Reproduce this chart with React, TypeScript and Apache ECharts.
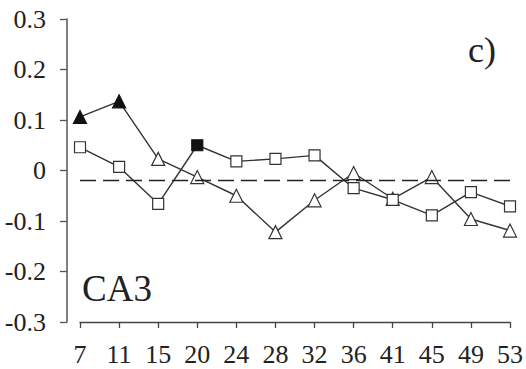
import React, { useEffect, useRef } from "react";
import * as echarts from "echarts";

const categories = ["7", "11", "15", "20", "24", "28", "32", "36", "41", "45", "49", "53"];
const triangleValues = [0.106, 0.137, 0.023, -0.013, -0.05, -0.122, -0.059, -0.005, -0.056, -0.013, -0.096, -0.119];
const squareValues = [0.046, 0.007, -0.066, 0.05, 0.018, 0.023, 0.03, -0.035, -0.058, -0.089, -0.043, -0.071];
const triangleFilled = ["7", "11"];
const squareFilled = ["20"];
const referenceLevel = -0.0165;
const yTicks = [-0.3, -0.2, -0.1, 0, 0.1, 0.2, 0.3];
const panelLabel = "c)";
const regionLabel = "CA3";

const FONT = "Liberation Serif";
const INK = "#222";

function toData(values: number[], filled: string[]) {
  return values.map((v, i) => ({
    value: v,
    itemStyle: filled.includes(categories[i])
      ? { color: "#111", borderColor: "#111" }
      : { color: "#fff", borderColor: "#333" },
  }));
}

export default function App() {
  const ref = useRef<HTMLDivElement>(null);
  useEffect(() => {
    if (!ref.current) return;
    const chart = echarts.init(ref.current, null, { renderer: "svg" });
    chart.setOption({
      animation: false,
      backgroundColor: "#fff",
      textStyle: { fontFamily: FONT },
      grid: { left: 80, right: 14, top: 19, bottom: 47 },
      xAxis: {
        type: "category",
        data: categories,
        boundaryGap: false,
        axisLine: { show: true, onZero: false, lineStyle: { color: "#444", width: 1.3 } },
        axisTick: { show: true, inside: false, length: 6, lineStyle: { color: "#444", width: 1.3 } },
        axisLabel: { margin: 19, fontFamily: FONT, fontSize: 26, color: INK },
        splitLine: { show: false },
      },
      yAxis: {
        type: "value",
        min: -0.3,
        max: 0.3,
        interval: 0.1,
        offset: 13,
        axisLine: { show: true, lineStyle: { color: "#555", width: 1.5 } },
        axisTick: { show: true, inside: false, length: 7, lineStyle: { color: "#555", width: 1.3 } },
        axisLabel: {
          margin: 21,
          fontFamily: FONT,
          fontSize: 26,
          color: INK,
          padding: [4, 0, 0, 0],
          formatter: (v: number) => {
            const r = Math.round(v * 10) / 10;
            const t = yTicks.find((x) => Math.abs(x - r) < 1e-9);
            return t === 0 ? "0" : String(t ?? r);
          },
        },
        splitLine: { show: false },
      },
      series: [
        {
          type: "line",
          data: toData(triangleValues, triangleFilled),
          symbol: "triangle",
          symbolSize: 13,
          lineStyle: { color: "#333", width: 1.4 },
          itemStyle: { borderWidth: 1.2 },
          z: 3,
          markLine: {
            silent: true,
            symbol: "none",
            label: { show: false },
            lineStyle: { color: INK, width: 1.3, type: [16, 7] },
            data: [{ yAxis: referenceLevel }],
          },
        },
        {
          type: "line",
          data: toData(squareValues, squareFilled),
          symbol: "rect",
          symbolSize: 11,
          lineStyle: { color: "#333", width: 1.4 },
          itemStyle: { borderWidth: 1.2 },
          z: 3,
        },
      ],
      graphic: [
        {
          type: "text",
          x: 468,
          y: 50,
          style: { text: panelLabel, fontFamily: FONT, fontSize: 36, fill: INK, verticalAlign: "middle" },
        },
        {
          type: "text",
          x: 82,
          y: 288,
          style: { text: regionLabel, fontFamily: FONT, fontSize: 37, fill: INK, verticalAlign: "middle" },
        },
      ],
    });
    return () => chart.dispose();
  }, []);
  return <div ref={ref} style={{ width: 526, height: 369, position: "absolute", left: 0, top: 0 }} />;
}
